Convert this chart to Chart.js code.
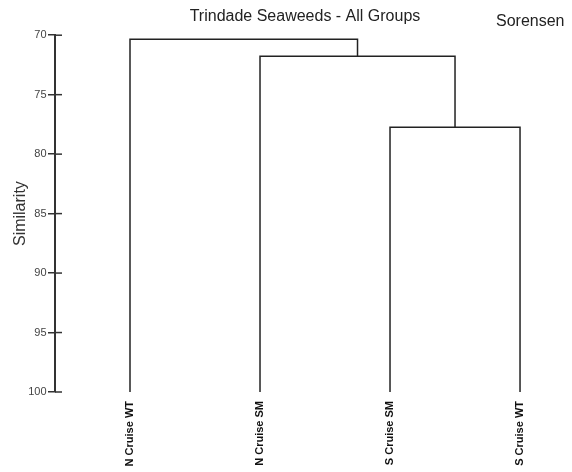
<!DOCTYPE html>
<html>
<head>
<meta charset="utf-8">
<script src="https://cdn.jsdelivr.net/npm/chart.js@4.4.1/dist/chart.umd.min.js"></script>
<style>
  html, body { margin: 0; padding: 0; background: #ffffff; }
  #wrap { width: 572px; height: 472px; position: relative; }
</style>
</head>
<body>
<div id="wrap"><canvas id="c"></canvas></div>
<script>
// ---- data ----
const leaves = ['N Cruise WT', 'N Cruise SM', 'S Cruise SM', 'S Cruise WT'];
// merges: children indices (0-3 leaves, 4+ = merge nodes in order) and similarity level
const mergeLeft = [2, 1, 0];
const mergeRight = [3, 4, 5];
const mergeSimilarity = [77.74, 71.76, 70.34];
const leafSimilarity = 100;
const yTicks = [70, 75, 80, 85, 90, 95, 100];
const chartTitle = 'Trindade Seaweeds - All Groups';
const cornerLabel = 'Sorensen';
const yTitle = 'Similarity';

// ---- build dendrogram link datasets ----
const nodeX = leaves.map((_, i) => i);
const nodeY = leaves.map(() => leafSimilarity);
const datasets = [];
mergeSimilarity.forEach((h, k) => {
  const a = mergeLeft[k], b = mergeRight[k];
  datasets.push({
    data: [
      { x: nodeX[a], y: nodeY[a] },
      { x: nodeX[a], y: h },
      { x: nodeX[b], y: h },
      { x: nodeX[b], y: nodeY[b] }
    ],
    borderColor: '#222222',
    borderWidth: 1.5,
    pointRadius: 0,
    fill: false,
    tension: 0
  });
  nodeX.push((nodeX[a] + nodeX[b]) / 2);
  nodeY.push(h);
});

const FONT = "'Liberation Sans', Arial, Helvetica, sans-serif";

const innerTicks = {
  id: 'innerTicks',
  afterDraw(chart) {
    const ys = chart.scales.y;
    const ctx = chart.ctx;
    const x0 = chart.chartArea.left;
    ctx.save();
    ctx.strokeStyle = '#333333';
    ctx.lineWidth = 1.5;
    ys.ticks.forEach(t => {
      const py = ys.getPixelForValue(t.value);
      ctx.beginPath();
      ctx.moveTo(x0, py);
      ctx.lineTo(x0 + 7, py);
      ctx.stroke();
    });
    ctx.fillStyle = '#222222';
    ctx.font = '16px ' + FONT;
    ctx.textBaseline = 'middle';
    ctx.textAlign = 'left';
    ctx.fillText(cornerLabel, 496, 22);
    ctx.restore();
  }
};

new Chart(document.getElementById('c'), {
  type: 'line',
  data: { datasets },
  plugins: [innerTicks],
  options: {
    responsive: true,
    maintainAspectRatio: false,
    animation: false,
    devicePixelRatio: 1,
    layout: { padding: { left: 0, right: 17, top: 0, bottom: 0 } },
    plugins: {
      legend: { display: false },
      tooltip: { enabled: false },
      title: {
        display: true,
        text: chartTitle,
        fullSize: false,
        color: '#222222',
        font: { family: FONT, size: 16, weight: 'normal' },
        padding: { top: 7, bottom: 9 }
      }
    },
    scales: {
      x: {
        type: 'linear',
        min: -0.5769,
        max: 3.269,
        afterBuildTicks: s => { s.ticks = leaves.map((_, i) => ({ value: i })); },
        afterFit: s => { s.height = 80; },
        grid: { display: false, drawTicks: false },
        border: { display: false },
        ticks: {
          autoSkip: false,
          minRotation: 90,
          maxRotation: 90,
          padding: 9,
          color: '#111111',
          font: { family: FONT, size: 11, weight: 'bold' },
          callback: v => leaves[v]
        }
      },
      y: {
        type: 'linear',
        reverse: true,
        min: 70,
        max: 100,
        afterBuildTicks: s => { s.ticks = yTicks.map(v => ({ value: v })); },
        afterFit: s => { s.width = 55; },
        grid: {
          display: true,
          drawOnChartArea: false,
          drawTicks: true,
          tickLength: 7,
          color: '#333333',
          lineWidth: 1.5
        },
        border: { display: true, color: '#333333', width: 2 },
        ticks: {
          padding: 1.5,
          color: '#444444',
          font: { family: FONT, size: 11 }
        },
        title: {
          display: true,
          text: yTitle,
          color: '#333333',
          font: { family: FONT, size: 16 },
          padding: { top: 11, bottom: 0 }
        }
      }
    }
  }
});
</script>
</body>
</html>
